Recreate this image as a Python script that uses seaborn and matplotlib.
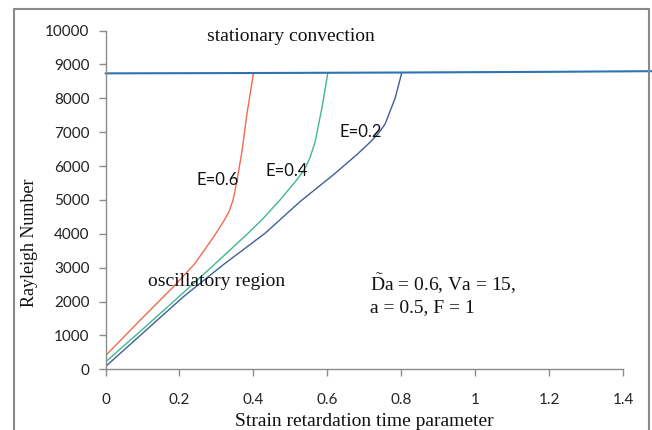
import numpy as np
import pandas as pd
import matplotlib
matplotlib.use("Agg")
import matplotlib.pyplot as plt
import seaborn as sns
from matplotlib.patches import Rectangle

# ---- data ----
e06_x = [0.0, 0.10, 0.184, 0.24, 0.274, 0.296, 0.319, 0.334, 0.345, 0.355, 0.369, 0.382, 0.400]
e06_y = [400, 1520, 2440, 3100, 3620, 3970, 4360, 4650, 5000, 5540, 6430, 7510, 8730]

e04_x = [0.0, 0.10, 0.184, 0.28, 0.386, 0.427, 0.472, 0.517, 0.538, 0.553, 0.567, 0.585, 0.601]
e04_y = [215, 1180, 2000, 2950, 4020, 4460, 5000, 5590, 5900, 6250, 6720, 7710, 8740]

e02_x = [0.0, 0.10, 0.211, 0.32, 0.432, 0.526, 0.616, 0.679, 0.715, 0.737, 0.756, 0.783, 0.801]
e02_y = [80, 1060, 2145, 3100, 4020, 4950, 5740, 6330, 6700, 6950, 7240, 8000, 8750]

stat_x = [0.0, 0.4, 0.8, 1.2, 1.48]
stat_y = [8735, 8745, 8760, 8780, 8800]

x_ticks = [0, 0.2, 0.4, 0.6, 0.8, 1.0, 1.2, 1.4]
x_tick_labels = ["0", "0.2", "0.4", "0.6", "0.8", "1", "1.2", "1.4"]
y_ticks = list(range(0, 10001, 1000))

sns.set_theme(style="white")
plt.rcParams["font.family"] = ["Lato", "DejaVu Sans"]
plt.rcParams["mathtext.fontset"] = "custom"
plt.rcParams["mathtext.rm"] = "Liberation Serif"
plt.rcParams["mathtext.it"] = "Liberation Serif:italic"

fig = plt.figure(figsize=(6.52, 4.30), dpi=100)
ax = fig.add_axes([105.5/652, 1-369.3/430, (623.3-105.5)/652, (369.3-30.5)/430])

def curve(xs, ys, color, lw, clip=True):
    df = pd.DataFrame({"x": xs, "y": ys})
    sns.lineplot(data=df, x="x", y="y", ax=ax, color=color, linewidth=lw,
                 sort=False, estimator=None, clip_on=clip)

curve(e06_x, e06_y, "#F26A4F", 1.0)
curve(e04_x, e04_y, "#3DBA8A", 1.0)
curve(e02_x, e02_y, "#3F5E9A", 1.0)
curve(stat_x, stat_y, "#2E74B5", 1.5, clip=False)
for ln in ax.lines:
    ln.set_solid_joinstyle("round")

ax.set_xlim(0, 1.4)
ax.set_ylim(0, 10000)
ax.set_xticks(x_ticks)
ax.set_xticklabels(x_tick_labels)
ax.set_yticks(y_ticks)

for s in ["top", "right"]:
    ax.spines[s].set_visible(False)
for s in ["left", "bottom"]:
    ax.spines[s].set_color("#8C8C8C")
    ax.spines[s].set_linewidth(1.0)
ax.tick_params(axis="both", direction="out", length=5, width=1, color="#8C8C8C",
               labelsize=11, labelcolor="#222222", bottom=True, left=True)
ax.tick_params(axis="y", pad=6.5)
ax.tick_params(axis="x", pad=12)

serif = ["Liberation Serif", "DejaVu Serif"]
ax.set_xlabel("Strain retardation time parameter", family=serif, fontsize=14, color="#111111", va="center")
ax.set_ylabel("Rayleigh Number", family=serif, fontsize=13, color="#111111", va="center")
ax.xaxis.set_label_coords((364 - 105.5) / 517.8, (369.3 - 421) / 338.8)
ax.yaxis.set_label_coords((29 - 105.5) / 517.8, (369.3 - 243) / 338.8)

ax.text(0.2745, 9830, "stationary convection", family=serif, fontsize=14, ha="left", va="center", color="#111111")
ax.text(0.115, 2600, "oscillatory region", family=serif, fontsize=14, ha="left", va="center", color="#111111")
ax.text(0.247, 5580, "E=0.6", fontsize=12, ha="left", va="center", color="#111111")
ax.text(0.433, 5860, "E=0.4", fontsize=12, ha="left", va="center", color="#111111")
ax.text(0.632, 7000, "E=0.2", fontsize=12, ha="left", va="center", color="#111111")
ax.text(0.715, 2530, r"$\tilde{\mathrm{D}}$a = 0.6, Va = 15,", family=serif, fontsize=14, ha="left", va="center", color="#111111")
ax.text(0.715, 1830, "a = 0.5, F = 1", family=serif, fontsize=14, ha="left", va="center", color="#111111")

fig.patches.append(Rectangle((14/652, -0.02), (649-14)/652, (430-9)/430 + 0.02,
                             transform=fig.transFigure, fill=False,
                             edgecolor="#8A8A8A", linewidth=1.5))

fig.savefig("out.png", dpi=100)
